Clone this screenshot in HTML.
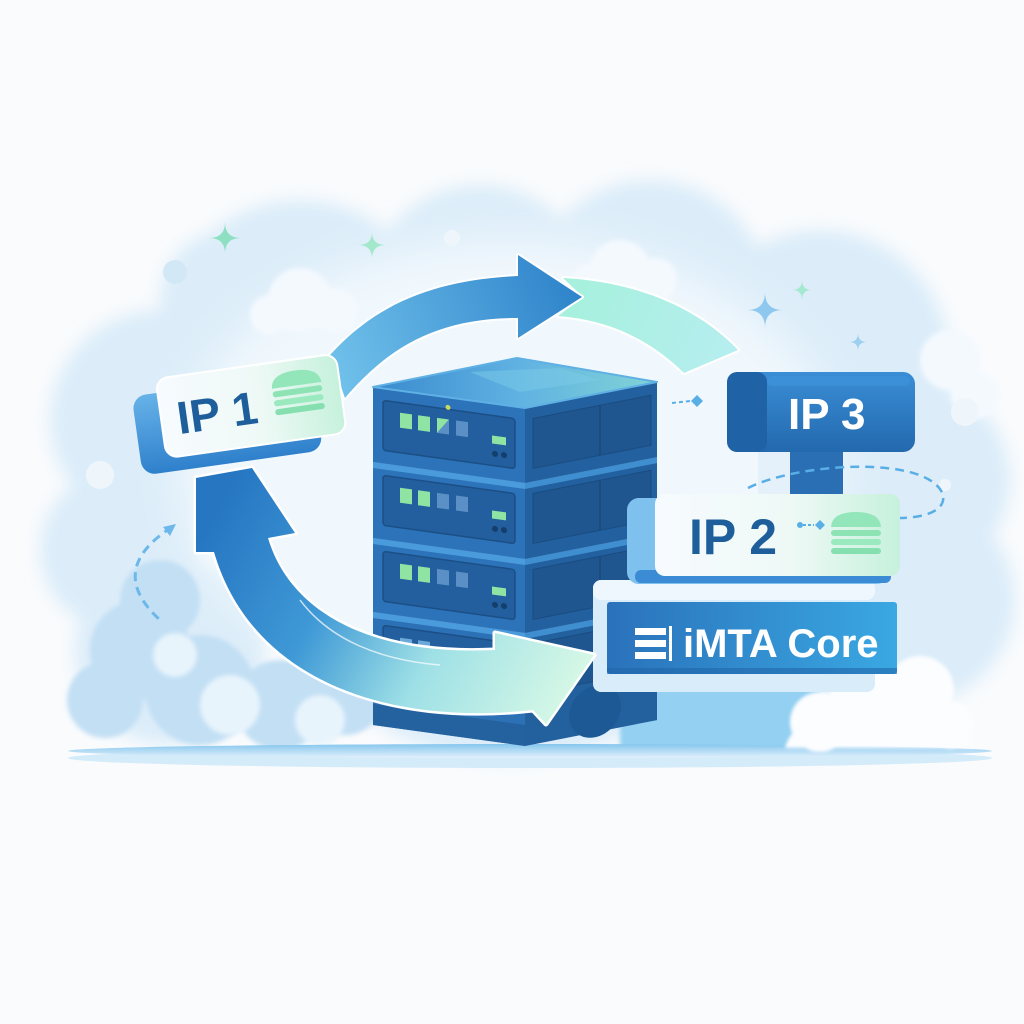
<!DOCTYPE html>
<html><head><meta charset="utf-8"><style>
html,body{margin:0;padding:0;background:#f9fbfd;}
svg{display:block;}
text{font-family:"Liberation Sans",Arial,sans-serif;font-weight:bold;}
</style></head><body>
<svg width="1024" height="1024" viewBox="0 0 1024 1024" xmlns="http://www.w3.org/2000/svg">
<defs>
<filter id="blur8" x="-20%" y="-20%" width="140%" height="140%"><feGaussianBlur stdDeviation="8"/></filter>
<filter id="blur20" x="-30%" y="-30%" width="160%" height="160%"><feGaussianBlur stdDeviation="22"/></filter>
<filter id="blur3"><feGaussianBlur stdDeviation="2.5"/></filter>
<filter id="blur2"><feGaussianBlur stdDeviation="1.5"/></filter>
<linearGradient id="topArrow" gradientUnits="userSpaceOnUse" x1="340" y1="380" x2="580" y2="290">
<stop offset="0" stop-color="#6fc0ea"/><stop offset="1" stop-color="#2e83ca"/></linearGradient>
<linearGradient id="greenArrow" gradientUnits="userSpaceOnUse" x1="560" y1="290" x2="740" y2="360">
<stop offset="0" stop-color="#a6f0dc"/><stop offset="1" stop-color="#b6eef0"/></linearGradient>
<linearGradient id="bigArrow" gradientUnits="userSpaceOnUse" x1="220" y1="500" x2="570" y2="690">
<stop offset="0" stop-color="#2676c2"/><stop offset="0.35" stop-color="#3f99d6"/><stop offset="0.65" stop-color="#9ee0e6"/><stop offset="1" stop-color="#d4f7e6"/></linearGradient>
<linearGradient id="ipFront" x1="0" y1="0" x2="1" y2="0">
<stop offset="0" stop-color="#f7fbff"/><stop offset="0.55" stop-color="#eef9f6"/><stop offset="1" stop-color="#c6f1dc"/></linearGradient>
<linearGradient id="ipBack" x1="0" y1="0" x2="0" y2="1">
<stop offset="0" stop-color="#66b2e8"/><stop offset="1" stop-color="#2f80cc"/></linearGradient>
<linearGradient id="imta" x1="0" y1="0" x2="1" y2="0">
<stop offset="0" stop-color="#2a72bb"/><stop offset="1" stop-color="#3aa8e2"/></linearGradient>
<linearGradient id="ip3" x1="0" y1="0" x2="0" y2="1">
<stop offset="0" stop-color="#3a8ed6"/><stop offset="1" stop-color="#2369ae"/></linearGradient>
<linearGradient id="topFace" gradientUnits="userSpaceOnUse" x1="380" y1="380" x2="650" y2="380">
<stop offset="0" stop-color="#3b8ccf"/><stop offset="0.5" stop-color="#5fb1e2"/><stop offset="1" stop-color="#7fd2d6"/></linearGradient>
<linearGradient id="ground" x1="0" y1="0" x2="0" y2="1">
<stop offset="0" stop-color="#86c6ee"/><stop offset="1" stop-color="#e2f1fb"/></linearGradient>
</defs>

<!-- background cloud mass -->
<g fill="#dcedf9" filter="url(#blur8)">
<circle cx="300" cy="340" r="140"/><circle cx="480" cy="300" r="115"/><circle cx="650" cy="300" r="120"/>
<circle cx="820" cy="360" r="130"/><circle cx="910" cy="480" r="100"/><circle cx="910" cy="600" r="105"/>
<circle cx="160" cy="420" r="110"/><circle cx="120" cy="550" r="80"/><circle cx="170" cy="650" r="95"/>
<circle cx="510" cy="500" r="260"/><circle cx="800" cy="640" r="110"/><circle cx="230" cy="300" r="70"/>
</g>
<ellipse cx="510" cy="470" rx="330" ry="230" fill="#f1f8fd" filter="url(#blur20)"/>
<!-- white cloud puffs -->
<g fill="#f4f9fe" filter="url(#blur3)">
<circle cx="300" cy="300" r="32"/><circle cx="335" cy="310" r="22"/><circle cx="270" cy="315" r="20"/>
<circle cx="620" cy="270" r="30"/><circle cx="655" cy="280" r="22"/><circle cx="590" cy="282" r="18"/>
<circle cx="950" cy="360" r="30"/><circle cx="975" cy="395" r="24"/>
</g>
<!-- bottom-left blue clouds -->
<g fill="#c2dff4" filter="url(#blur3)">
<circle cx="140" cy="650" r="50"/><circle cx="200" cy="690" r="55"/><circle cx="280" cy="705" r="45"/>
<circle cx="345" cy="695" r="40"/><circle cx="105" cy="700" r="38"/><circle cx="160" cy="600" r="40"/>
</g>
<g fill="#e8f4fc" filter="url(#blur3)">
<circle cx="230" cy="705" r="30"/><circle cx="320" cy="720" r="25"/><circle cx="175" cy="655" r="22"/>
</g>
<!-- blue area bottom right behind iMTA -->
<rect x="620" y="670" width="200" height="82" fill="#93d0f1" filter="url(#blur3)"/>
<!-- ground -->
<ellipse cx="530" cy="758" rx="462" ry="10" fill="#d4ebf9"/>
<ellipse cx="530" cy="751" rx="462" ry="7" fill="url(#ground)"/>
<!-- bottom right cloud -->
<g fill="#fbfdff" filter="url(#blur2)">
<circle cx="870" cy="705" r="42"/><circle cx="920" cy="690" r="34"/><circle cx="820" cy="722" r="30"/><circle cx="950" cy="725" r="24"/>
<path d="M785,748 C790,730 805,718 825,716 L960,716 L975,748 Z"/>
</g>

<!-- sparkles & dots -->
<g>
<path d="M225,222 Q225,238 241,238 Q225,238 225,254 Q225,238 209,238 Q225,238 225,222Z" fill="#8fe0c2"/>
<path d="M372,232 Q372,245 386,245 Q372,245 372,259 Q372,245 358,245 Q372,245 372,232Z" fill="#a4e8cc"/>
<path d="M765,292 Q765,310 783,310 Q765,310 765,328 Q765,310 747,310 Q765,310 765,292Z" fill="#8ec8ee"/>
<path d="M802,280 Q802,290 812,290 Q802,290 802,300 Q802,290 792,290 Q802,290 802,280Z" fill="#a3e8cf"/>
<path d="M858,333 Q858,342 867,342 Q858,342 858,351 Q858,342 849,342 Q858,342 858,333Z" fill="#9dcff0"/>
<circle cx="175" cy="272" r="12" fill="#d3e8f7"/>
<circle cx="100" cy="475" r="14" fill="#eef6fc"/>
<circle cx="965" cy="412" r="14" fill="#eef6fc"/>
<circle cx="452" cy="238" r="8" fill="#eef6fc"/>
<circle cx="945" cy="485" r="6" fill="#eef6fc"/>
</g>

<!-- left dashed arc -->
<path d="M172,527 Q105,570 160,620" fill="none" stroke="#6cb8ea" stroke-width="3" stroke-dasharray="9 6"/>
<path d="M176,524 L163,527 L170,536 Z" fill="#6cb8ea"/>

<!-- top arrows -->
<path d="M563,278 C640,282 700,310 738,350 L684,373 C650,340 610,320 558,316 L583,297 Z" fill="url(#greenArrow)" stroke="#ffffff" stroke-width="4" stroke-linejoin="round" paint-order="stroke"/>
<path d="M330,355 C380,300 440,280 518,276 L518,255 L582,297 L518,338 L518,318 C440,318 390,345 345,398 Z" fill="url(#topArrow)" stroke="#ffffff" stroke-width="4" stroke-linejoin="round" paint-order="stroke"/>

<!-- dots connector near IP3 -->
<g fill="#5aaee6" stroke="#5aaee6">
<line x1="672" y1="403" x2="690" y2="401" stroke-width="2" stroke-dasharray="4 3"/>
<path d="M697,395 L703,401 L697,407 L691,401 Z" stroke="none"/>
</g>

<!-- IP3 pale backdrop & stem -->
<rect x="758" y="440" width="45" height="70" fill="#e4f1fb"/>
<rect x="790" y="448" width="53" height="48" fill="#2a6fb4"/>
<!-- IP3 box -->
<rect x="727" y="372" width="188" height="80" rx="12" fill="url(#ip3)"/>
<rect x="727" y="372" width="40" height="80" rx="10" fill="#1f62a6"/>
<rect x="767" y="376" width="143" height="10" rx="5" fill="#3f94da" opacity="0.6"/>
<text x="788" y="429" font-size="44" fill="#ffffff">IP 3</text>

<!-- server -->
<g>
<!-- unit 4 (base) -->
<g transform="translate(373,612) skewY(7.87)">
<rect x="0" y="0" width="152" height="113" fill="#2c70b5"/>
<rect x="0" y="0" width="152" height="6" fill="#4a9bdc"/>
<rect x="10" y="12" width="132" height="50" rx="3" fill="#235f9e" stroke="#1b4f86" stroke-width="1.5"/>
<rect x="27" y="22" width="12" height="15" fill="#6aa9d8"/><rect x="45" y="22" width="12" height="15" fill="#6aa9d8"/>
<rect x="0" y="92" width="152" height="21" fill="#24629f"/>
</g>
<g transform="translate(525,633) skewY(-11.1)">
<rect x="0" y="0" width="132" height="113" fill="#22609e"/>
<rect x="0" y="0" width="132" height="6" fill="#3f8fd0"/>
<rect x="8" y="12" width="118" height="50" fill="#1f568f" stroke="#1a4c80"/>
<circle cx="70" cy="92" r="26" fill="#1d5995"/>
</g>
<!-- unit 3 -->
<g transform="translate(373,538) skewY(7.87)">
<rect x="0" y="0" width="152" height="74" fill="#2c73ba"/>
<rect x="0" y="0" width="152" height="6" fill="#4a9bdc"/>
<rect x="10" y="12" width="132" height="50" rx="3" fill="#235f9e" stroke="#1b4f86" stroke-width="1.5"/>
<rect x="27" y="22" width="12" height="15" fill="#8fe3a3"/><rect x="45" y="22" width="12" height="15" fill="#8fe3a3"/>
<rect x="64" y="22" width="12" height="15" fill="#5b90c6"/><rect x="83" y="22" width="12" height="15" fill="#5b90c6"/>
<rect x="119" y="32" width="14" height="8" fill="#8fe3a3"/>
<circle cx="122" cy="50" r="3" fill="#143e6b"/><circle cx="131" cy="50" r="3" fill="#143e6b"/>
</g>
<g transform="translate(525,559) skewY(-11.1)">
<rect x="0" y="0" width="132" height="74" fill="#23609f"/>
<rect x="0" y="0" width="132" height="6" fill="#3f8fd0"/>
<rect x="8" y="12" width="118" height="50" fill="#1f568f" stroke="#1a4c80"/>
<line x1="75" y1="12" x2="75" y2="62" stroke="#1a4c80" stroke-width="2"/>
</g>
<!-- unit 2 -->
<g transform="translate(373,462) skewY(7.87)">
<rect x="0" y="0" width="152" height="76" fill="#2c73ba"/>
<rect x="0" y="0" width="152" height="6" fill="#4a9bdc"/>
<rect x="10" y="12" width="132" height="50" rx="3" fill="#235f9e" stroke="#1b4f86" stroke-width="1.5"/>
<rect x="27" y="22" width="12" height="15" fill="#8fe3a3"/><rect x="45" y="22" width="12" height="15" fill="#8fe3a3"/>
<rect x="64" y="22" width="12" height="15" fill="#5b90c6"/><rect x="83" y="22" width="12" height="15" fill="#5b90c6"/>
<rect x="119" y="32" width="14" height="8" fill="#8fe3a3"/>
<circle cx="122" cy="50" r="3" fill="#143e6b"/><circle cx="131" cy="50" r="3" fill="#143e6b"/>
</g>
<g transform="translate(525,483) skewY(-11.1)">
<rect x="0" y="0" width="132" height="76" fill="#23609f"/>
<rect x="0" y="0" width="132" height="6" fill="#3f8fd0"/>
<rect x="8" y="12" width="118" height="50" fill="#1f568f" stroke="#1a4c80"/>
<line x1="75" y1="12" x2="75" y2="62" stroke="#1a4c80" stroke-width="2"/>
</g>
<!-- unit 1 -->
<g transform="translate(373,387) skewY(7.87)">
<rect x="0" y="0" width="152" height="75" fill="#2c73ba"/>
<rect x="10" y="12" width="132" height="50" rx="3" fill="#235f9e" stroke="#1b4f86" stroke-width="1.5"/>
<rect x="27" y="22" width="12" height="15" fill="#8fe3a3"/><rect x="45" y="22" width="12" height="15" fill="#8fe3a3"/>
<path d="M64,37 L76,22 L76,37Z" fill="#5b90c6"/><path d="M64,22 L76,22 L64,37Z" fill="#8fe3a3"/>
<rect x="83" y="22" width="12" height="15" fill="#5b90c6"/>
<rect x="119" y="32" width="14" height="8" fill="#8fe3a3"/>
<circle cx="122" cy="50" r="3" fill="#143e6b"/><circle cx="131" cy="50" r="3" fill="#143e6b"/>
<circle cx="75" cy="10" r="2.5" fill="#c8d860"/>
</g>
<g transform="translate(525,408) skewY(-11.1)">
<rect x="0" y="0" width="132" height="75" fill="#23609f"/>
<rect x="8" y="12" width="118" height="50" fill="#1f568f" stroke="#1a4c80"/>
<line x1="75" y1="12" x2="75" y2="62" stroke="#1a4c80" stroke-width="2"/>
</g>
<!-- top face -->
<path d="M373,387 L517,358 L657,382 L525,408 Z" fill="url(#topFace)" stroke="#5fb0e4" stroke-width="2" stroke-linejoin="round"/>
<path d="M470,372 L560,368 L600,380 L520,392 Z" fill="#7ccbe8" opacity="0.5"/>
</g>

<!-- dashed ellipse near IP2 -->
<path d="M748,488 C800,462 930,455 943,495 C946,512 922,518 898,518" fill="none" stroke="#5aaee6" stroke-width="2.5" stroke-dasharray="9 6"/>

<!-- iMTA panel -->
<rect x="593" y="580" width="282" height="112" rx="8" fill="#d9ecf9"/>
<rect x="593" y="580" width="282" height="20" rx="8" fill="#eef7fd"/>
<rect x="607" y="602" width="290" height="72" rx="3" fill="url(#imta)"/>
<rect x="607" y="668" width="290" height="6" fill="#2266aa" opacity="0.6"/>
<g fill="#ffffff">
<rect x="635" y="628" width="31" height="7"/><rect x="635" y="640" width="31" height="7"/><rect x="635" y="652" width="31" height="7"/>
<rect x="669" y="626" width="3" height="35"/>
</g>
<text x="683" y="657" font-size="40" fill="#ffffff">iMTA Core</text>

<!-- IP2 box -->
<rect x="627" y="498" width="262" height="86" rx="12" fill="#7fc1ee"/>
<rect x="635" y="570" width="256" height="13" rx="6" fill="#3b8bd5"/>
<rect x="655" y="494" width="245" height="82" rx="10" fill="url(#ipFront)"/>
<text x="689" y="554" font-size="50" fill="#1e5f9b">IP 2</text>
<g fill="#5aaee6" stroke="#5aaee6">
<circle cx="800" cy="525" r="3" stroke="none"/>
<line x1="803" y1="525" x2="814" y2="525" stroke-width="2" stroke-dasharray="3 2"/>
<path d="M820,520 L825,525 L820,530 L815,525Z" stroke="none"/>
</g>
<g>
<path d="M831,527 Q832,512 856,512 Q880,512 881,527 Z" fill="#93e6b9"/>
<rect x="831" y="530" width="50" height="6" rx="3" fill="#8ee3b5"/>
<rect x="831" y="539" width="50" height="6" rx="3" fill="#9be9bf"/>
<rect x="831" y="548" width="50" height="6" rx="3" fill="#86dfae"/>
</g>

<!-- big lower arrow -->
<path d="M196,478 L252,468 L295,533 L268,538 C290,612 370,656 495,650 L495,633 L594,655 L546,724 L533,710 C390,726 252,682 214,552 L196,552 Z" fill="url(#bigArrow)" stroke="#ffffff" stroke-width="5" stroke-linejoin="round" paint-order="stroke"/>
<path d="M300,600 C330,640 380,660 440,665" fill="none" stroke="#ffffff" stroke-width="1.5" opacity="0.7"/>

<!-- IP1 box (rotated) -->
<g transform="rotate(-8 250 405)">
<rect x="134" y="380" width="182" height="80" rx="14" fill="url(#ipBack)"/>
<rect x="160" y="366" width="182" height="80" rx="12" fill="url(#ipFront)" stroke="#ffffff" stroke-width="2"/>
<text x="176" y="424" font-size="46" fill="#1e5f9b">IP 1</text>
<path d="M274,392 Q275,377 299,377 Q323,377 324,392 Z" fill="#93e6b9"/>
<rect x="274" y="395" width="50" height="6" rx="3" fill="#8ee3b5"/>
<rect x="274" y="404" width="50" height="6" rx="3" fill="#9be9bf"/>
<rect x="274" y="413" width="50" height="6" rx="3" fill="#86dfae"/>
</g>
</svg>
</body></html>
